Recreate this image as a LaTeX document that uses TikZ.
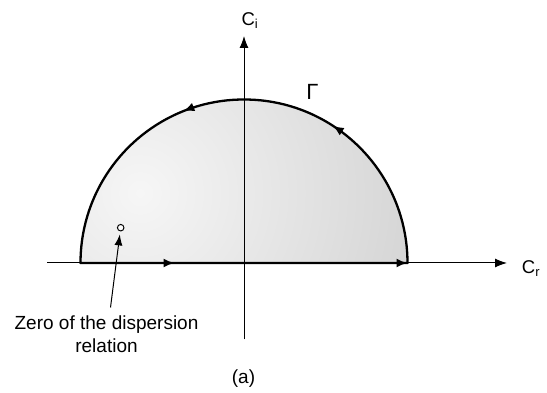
\documentclass[tikz,border=0pt]{standalone}
\usepackage{fontspec}
\setmainfont{Liberation Sans}
\usepackage{tikz}
\usetikzlibrary{arrows.meta,decorations.markings}
\definecolor{shadelight}{HTML}{F6F6F6}
\definecolor{shadedark}{HTML}{CFCFCF}
\tikzset{
  axisline/.style={-{Latex[length=12pt,width=9pt]}, line width=1pt, draw=black},
  contour/.style={line width=2.3pt, draw=black, line join=round,
    postaction={decorate, decoration={markings,
      mark=at position 94pt with {\arrow{Latex[length=11pt,width=9pt]}},
      mark=at position 327pt with {\arrow{Latex[length=11pt,width=9pt]}},
      mark=at position 490pt with {\arrow{Latex[length=11pt,width=9pt]}},
      mark=at position 646pt with {\arrow{Latex[length=11pt,width=9pt]}}}}},
  pointer/.style={-{Latex[length=11pt,width=8pt]}, line width=1pt, draw=black, shorten >=3pt},
  zeropt/.style={circle, draw=black, line width=1pt, fill=white, minimum size=6.5pt, inner sep=0pt},
  axislabel/.style={font=\fontsize{18.5}{21}\selectfont, inner sep=1pt},
  bodytext/.style={font=\fontsize{19}{23.3}\selectfont, align=center, inner sep=1pt}
}

\begin{document}
\begin{tikzpicture}[x=1pt,y=1pt]
    \useasboundingbox[fill=white] (0,0) rectangle (547,393);
    \coordinate (O) at (244,130);
    \coordinate (gl) at (80.5,130);
    \coordinate (gr) at (407.5,130);
    \coordinate (xl) at (47,130);
    \coordinate (xr) at (507,130);
    \coordinate (yb) at (244,53.7);
    \coordinate (yt) at (244,357);

    % shaded half disc
    \begin{scope}
        \clip (gl) -- (gr) arc[start angle=0, end angle=180, radius=163.5] -- cycle;
        \shade[inner color=shadelight, outer color=shadedark] (140,200) circle (330);
    \end{scope}

    \draw[axisline] (xl) -- (xr);
    \draw[axisline] (yb) -- (yt);
    \draw[contour] (gl) -- (gr) arc[start angle=0, end angle=180, radius=163.5] -- cycle;

    \node[axislabel] (ci) at (250,372.5) {C\textsubscript{i}};
    \node[axislabel] (cr) at (531,124.5) {C\textsubscript{r}};
    \node[font=\fontsize{22}{24}\selectfont, inner sep=1pt] (gam) at (312.5,301) {Γ};

    \node[zeropt] (zero) at (120.7,165.3) {};
    \node[bodytext] (zerolbl) at (106.5,58.5) {Zero of the dispersion\\relation};
    \coordinate (ztail) at (110.5,85.5);
    \draw[pointer] (ztail) -- (zero);

    \node[bodytext] (cap) at (243.5,14.5) {(a)};
\end{tikzpicture}
\end{document}
